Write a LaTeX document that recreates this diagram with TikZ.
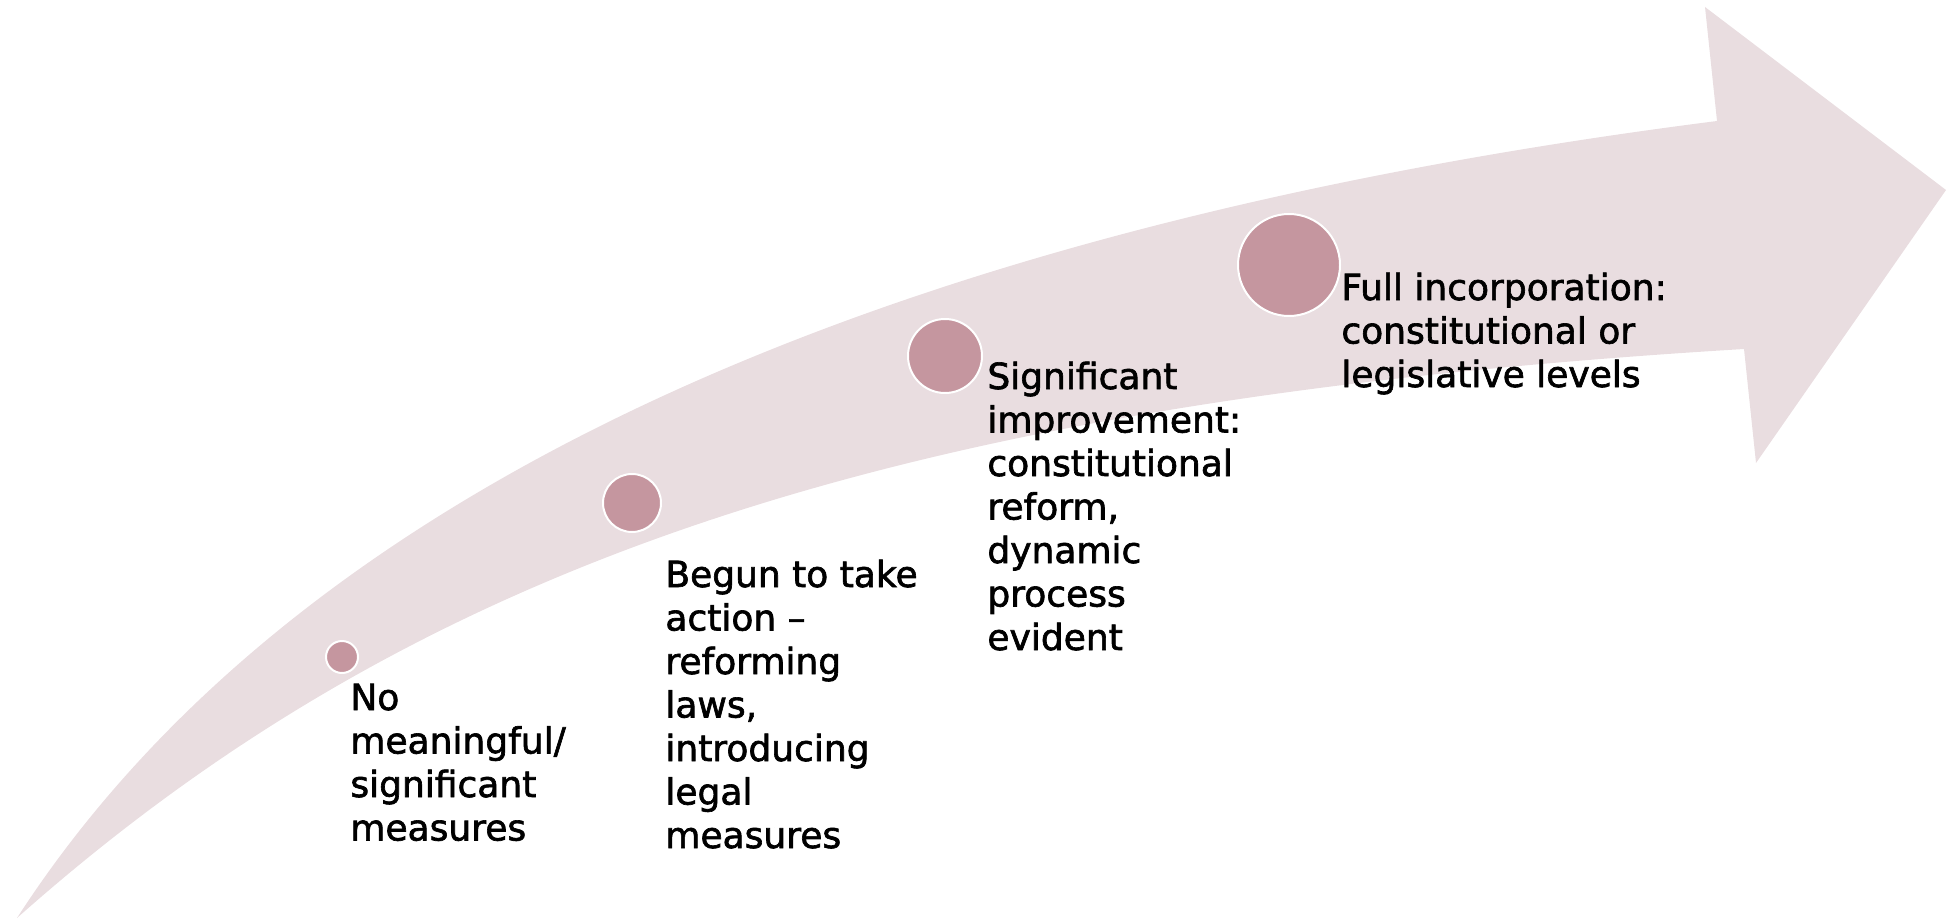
\documentclass[tikz,border=0pt]{standalone}
\usepackage{fontspec}
\setmainfont[FakeBold=1.8]{DejaVu Sans}
\definecolor{bandc}{HTML}{E9DDE0}
\definecolor{dotc}{HTML}{C5969F}
\newcommand\labtext[1]{\vtop{\baselineskip=21.75pt\lineskiplimit=-100pt\lineskip=0pt\halign{##\hfil\cr#1\crcr}}}
\tikzset{
  band/.style={fill=bandc},
  dot/.style={circle, fill=dotc, draw=white, line width=1pt, inner sep=0pt},
  lab/.style={anchor=base west, inner sep=0pt, font=\fontsize{18pt}{21.75pt}\selectfont}
}
\begin{document}
\begin{tikzpicture}[x=0.5pt,y=-0.5pt]
\useasboundingbox (0,0) rectangle (1949,920);
\fill[band] (17,918) .. controls (300,480) and (900,225) .. (1717,121) -- (1705,7) -- (1946,190) -- (1756,463) -- (1744,349) .. controls (900,400) and (420,560) .. (17,918) -- cycle;
\node[dot, minimum size=16pt] (d1) at (342,657) {};
\node[dot, minimum size=29pt] (d2) at (632,503) {};
\node[dot, minimum size=37pt] (d3) at (945,356) {};
\node[dot, minimum size=51pt] (d4) at (1289,265) {};
\node[lab] (t1) at (350,710) {\labtext{No\cr meaningful/\cr significant\cr measures}};
\node[lab] (t2) at (665,587) {\labtext{Begun to take\cr action --\cr reforming\cr laws,\cr introducing\cr legal\cr measures}};
\node[lab] (t3) at (987,389) {\labtext{Significant\cr improvement:\cr constitutional\cr reform,\cr dynamic\cr process\cr evident}};
\node[lab] (t4) at (1341,300) {\labtext{Full incorporation:\cr constitutional or\cr legislative levels}};
\end{tikzpicture}
\end{document}
